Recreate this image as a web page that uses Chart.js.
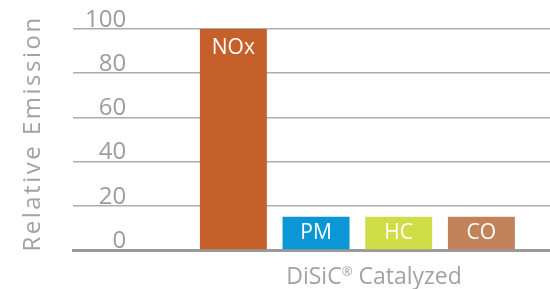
<!DOCTYPE html>
<html>
<head>
<meta charset="utf-8">
<script src="https://cdn.jsdelivr.net/npm/chart.js@4/dist/chart.umd.min.js"></script>
<style>
  html, body { margin: 0; padding: 0; background: #fff; }
  #wrap { width: 550px; height: 289px; }
</style>
</head>
<body>
<div id="wrap"><canvas id="emissionChart"></canvas></div>
<script>
// Chart data
const categories = ['NOx', 'PM', 'HC', 'CO'];
const positions = [1, 2, 3, 4];
const relativeEmission = [100, 15, 15, 15];
const barColors = ['#c5602a', '#0b97d5', '#d1dd47', '#c3835a'];
const yTicks = [0, 20, 40, 60, 80, 100];
const yTitle = 'Relative Emission';
const xTitle = ['DiSiC', '®', ' Catalyzed'];

const FONT = '"Open Sans", "Noto Sans", sans-serif';

// white labels inside the bars
const barTextPlugin = {
    id: 'barText',
    afterDatasetsDraw(chart) {
        const ctx = chart.ctx;
        const meta = chart.getDatasetMeta(0);
        ctx.save();
        ctx.font = '21px ' + FONT;
        ctx.fillStyle = '#ffffff';
        ctx.textAlign = 'center';
        ctx.textBaseline = 'middle';
        meta.data.forEach((bar, i) => {
            const y = Math.min(bar.y + 19, (bar.y + bar.base) / 2);
            ctx.fillText(categories[i], bar.x, y);
        });
        ctx.restore();
    }
};

// axis titles (need letter spacing and a superscript)
const axisTitlePlugin = {
    id: 'axisTitles',
    afterDraw(chart) {
        const ctx = chart.ctx;
        const area = chart.chartArea;
        ctx.save();
        ctx.fillStyle = '#a2a2a2';
        ctx.font = '24px ' + FONT;
        ctx.letterSpacing = '2.5px';
        ctx.translate(40, (area.top + area.bottom) / 2 - 6);
        ctx.rotate(-Math.PI / 2);
        ctx.textAlign = 'center';
        ctx.textBaseline = 'alphabetic';
        ctx.fillText(yTitle, 0, 0);
        ctx.restore();

        ctx.save();
        ctx.fillStyle = '#a2a2a2';
        ctx.textBaseline = 'alphabetic';
        ctx.textAlign = 'left';
        const big = '23px ' + FONT;
        const small = '13px ' + FONT;
        ctx.font = big;
        const w1 = ctx.measureText(xTitle[0]).width;
        const w3 = ctx.measureText(xTitle[2]).width;
        ctx.font = small;
        const w2 = ctx.measureText(xTitle[1]).width;
        let x = 374 - (w1 + w2 + w3) / 2;
        const base = 284;
        ctx.font = big;
        ctx.fillText(xTitle[0], x, base);
        x += w1;
        ctx.font = small;
        ctx.fillText(xTitle[1], x, base - 8);
        x += w2;
        ctx.font = big;
        ctx.fillText(xTitle[2], x, base);
        ctx.restore();
    }
};

const ctx = document.getElementById('emissionChart').getContext('2d');
const chart = new Chart(ctx, {
    type: 'bar',
    data: {
        datasets: [{
            data: positions.map((p, i) => ({ x: p, y: relativeEmission[i] })),
            backgroundColor: barColors,
            borderWidth: 0,
            categoryPercentage: 1,
            barPercentage: 0.81
        }]
    },
    options: {
        responsive: true,
        maintainAspectRatio: false,
        animation: false,
        layout: {
            padding: { left: 49, top: 29, right: 0, bottom: 31 }
        },
        plugins: {
            legend: { display: false },
            tooltip: { enabled: false }
        },
        scales: {
            x: {
                type: 'linear',
                offset: false,
                min: -0.94,
                max: 4.83,
                afterBuildTicks: (scale) => {
                    scale.ticks = positions.map(v => ({ value: v }));
                },
                ticks: { display: false },
                grid: { display: false, offset: false },
                border: { display: true, color: '#9a9a9a', width: 3 }
            },
            y: {
                min: 0,
                max: 100,
                afterBuildTicks: (scale) => {
                    scale.ticks = yTicks.map(v => ({ value: v }));
                },
                ticks: {
                    mirror: true,
                    crossAlign: 'far',
                    padding: 12,
                    labelOffset: -9,
                    color: '#9d9d9d',
                    font: { family: FONT, size: 24 }
                },
                grid: {
                    drawTicks: false,
                    color: (c) => c.tick && c.tick.value === 0 ? 'rgba(0,0,0,0)' : '#adadad',
                    lineWidth: 1.5
                },
                border: { display: false }
            }
        }
    },
    plugins: [barTextPlugin, axisTitlePlugin]
});
</script>
</body>
</html>
